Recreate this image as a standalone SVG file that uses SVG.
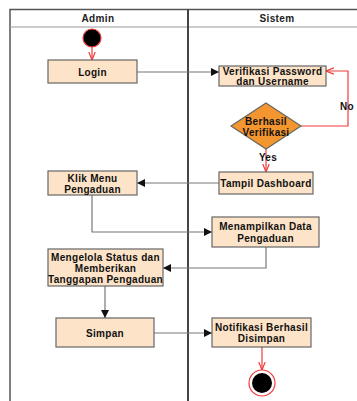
<svg xmlns="http://www.w3.org/2000/svg" width="357" height="401" viewBox="0 0 357 401">
<style>
.lane{fill:none;stroke:#555;stroke-width:1.5}
.act{fill:#fde3c8;stroke:#666;stroke-width:1.2}
.t{font-family:"Liberation Sans",Arial,sans-serif;font-weight:bold;font-size:10px;letter-spacing:0.3px;fill:#111;text-anchor:middle}
.h{font-family:"Liberation Sans",Arial,sans-serif;font-weight:bold;font-size:10px;letter-spacing:0.4px;fill:#222;text-anchor:middle}
.e{fill:none;stroke:#777;stroke-width:1.2}
.r{fill:none;stroke:#f03c3c;stroke-width:1.2}
</style>
<defs>
<marker id="ab" viewBox="0 0 10 10" refX="10" refY="5" markerWidth="8" markerHeight="8" markerUnits="userSpaceOnUse" orient="auto"><path d="M0,0 L10,5 L0,10 Z" fill="#111"/></marker>
<marker id="ar" viewBox="0 0 10 10" refX="10" refY="5" markerWidth="8" markerHeight="8" markerUnits="userSpaceOnUse" orient="auto"><path d="M0,1 L10,5 L0,9" fill="none" stroke="#f03c3c" stroke-width="1.5"/></marker>
</defs>
<rect width="357" height="401" fill="#fff"/>
<g id="swimlanes">
<path class="lane" d="M10,401 V9.5 H357"/>
<line x1="10" y1="27" x2="357" y2="27" stroke="#999" stroke-width="1.2"/>
<line x1="188" y1="9" x2="188" y2="401" stroke="#444" stroke-width="2"/>
<text class="h" x="98" y="21.5">Admin</text>
<text class="h" x="277" y="21.5">Sistem</text>
</g>
<g id="connectors">
<line class="r" x1="92" y1="47" x2="92" y2="60" marker-end="url(#ar)"/>
<line class="e" x1="137" y1="72" x2="219" y2="72" marker-end="url(#ab)"/>
<path class="r" d="M301,126 H348 V71 H326" marker-end="url(#ar)"/>
<text class="t" x="347" y="109.5">No</text>
<line class="r" x1="266" y1="149" x2="266" y2="172" marker-end="url(#ar)"/>
<text class="t" x="268" y="161">Yes</text>
<line class="e" x1="219" y1="183" x2="137" y2="183" marker-end="url(#ab)"/>
<path class="e" d="M92,195 V232 H212" marker-end="url(#ab)"/>
<path class="e" d="M266,247 V268 H163" marker-end="url(#ab)"/>
<line class="e" x1="105" y1="286" x2="105" y2="318" marker-end="url(#ab)"/>
<line class="e" x1="154" y1="333" x2="212" y2="333" marker-end="url(#ab)"/>
<line class="r" x1="262" y1="347" x2="262" y2="370" marker-end="url(#ar)"/>
</g>
<g id="start"><circle cx="92" cy="38" r="9" fill="#000" stroke="#f03c3c" stroke-width="1.2"/></g>
<g id="login"><rect class="act" x="48" y="60" width="89" height="23"/><text class="t" x="92.5" y="75.5">Login</text></g>
<g id="verifikasi"><rect class="act" x="219" y="66" width="107" height="20"/><text class="t" x="272.5" y="74.5">Verifikasi Password</text><text class="t" x="272.5" y="84.5">dan Username</text></g>
<g id="berhasil"><polygon points="266,103 301,126 266,149 231,126" fill="#f4962f" stroke="#666" stroke-width="1.2"/><text class="t" x="266" y="124.5">Berhasil</text><text class="t" x="266" y="136">Verifikasi</text></g>
<g id="dashboard"><rect class="act" x="219" y="172" width="94" height="22"/><text class="t" x="266" y="186.5">Tampil Dashboard</text></g>
<g id="klikmenu"><rect class="act" x="48" y="171" width="89" height="24"/><text class="t" x="92.5" y="181.5">Klik Menu</text><text class="t" x="92.5" y="192.5">Pengaduan</text></g>
<g id="menampilkan"><rect class="act" x="212" y="217" width="107" height="30"/><text class="t" x="265.5" y="230">Menampilkan Data</text><text class="t" x="265.5" y="241.5">Pengaduan</text></g>
<g id="mengelola"><rect class="act" x="48" y="249" width="115" height="37"/><text class="t" x="105.5" y="260.5">Mengelola Status dan</text><text class="t" x="105.5" y="271.5">Memberikan</text><text class="t" x="105.5" y="282.5">Tanggapan Pengaduan</text></g>
<g id="simpan"><rect class="act" x="56" y="318" width="98" height="29"/><text class="t" x="105" y="336.5">Simpan</text></g>
<g id="notifikasi"><rect class="act" x="212" y="318" width="99" height="29"/><text class="t" x="261.5" y="330.5">Notifikasi Berhasil</text><text class="t" x="261.5" y="342">Disimpan</text></g>
<g id="end"><circle cx="262" cy="383" r="13" fill="#fff" stroke="#f03c3c" stroke-width="1.2"/><circle cx="262" cy="383" r="10" fill="#000"/></g>
</svg>
